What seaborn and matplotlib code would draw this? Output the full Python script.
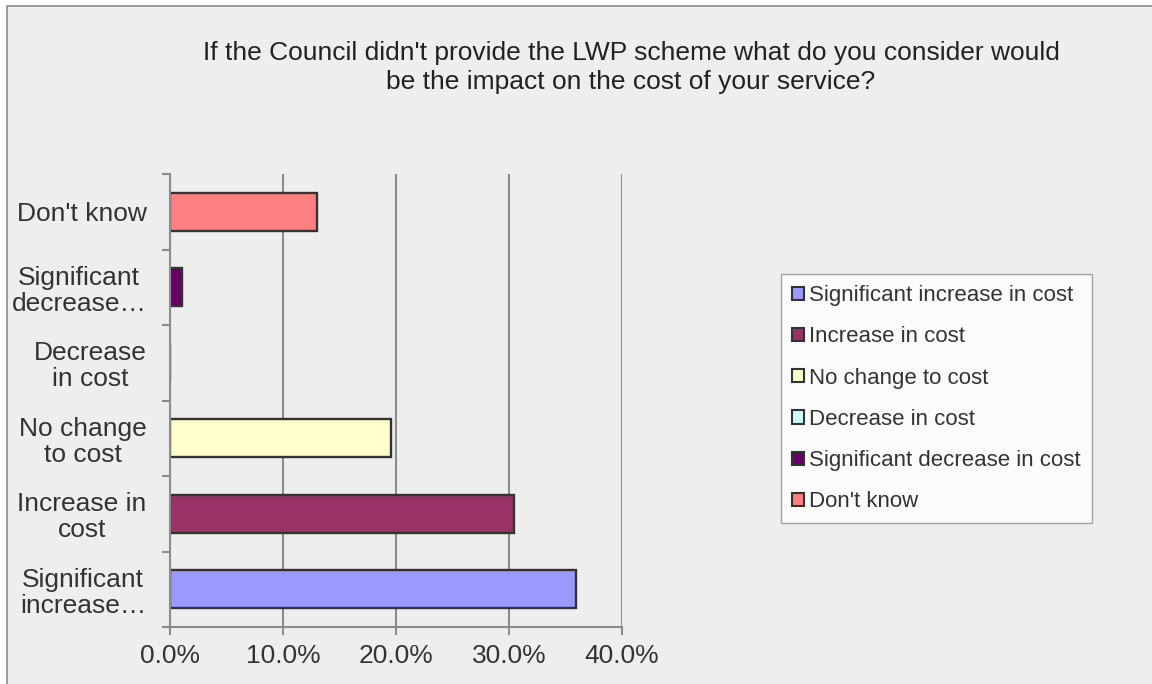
import matplotlib
matplotlib.use("Agg")
import matplotlib.pyplot as plt
from matplotlib.patches import Patch, Rectangle
from matplotlib.ticker import FuncFormatter, FixedLocator
import seaborn as sns
import pandas as pd

# Survey answers, top to bottom as drawn
categories = ["Don't know", "Significant decrease in cost", "Decrease in cost",
              "No change to cost", "Increase in cost", "Significant increase in cost"]
tick_labels = ["Don't know", "Significant\ndecrease…", "Decrease\nin cost",
               "No change\nto cost", "Increase in\ncost", "Significant\nincrease…"]
percent = [13.0, 1.1, 0.0, 19.6, 30.4, 35.9]
colors = ["#FF8080", "#660066", "#CCFFFF", "#FFFFCC", "#993366", "#9999FF"]
legend_order = ["Significant increase in cost", "Increase in cost", "No change to cost",
                "Decrease in cost", "Significant decrease in cost", "Don't know"]
x_ticks = [0, 10, 20, 30, 40]

title_lines = ["If the Council didn't provide the LWP scheme what do you consider would",
               "be the impact on the cost of your service?"]

sns.set_theme(style="white")
plt.rcParams["font.family"] = ["Liberation Sans", "DejaVu Sans"]

W, H = 1152, 684
fig = plt.figure(figsize=(W / 100, H / 100), dpi=100, facecolor="white")

# Chart area panel with a thin grey frame
fig.patches.append(Rectangle((7 / W, -0.05), 1, 1.05 - 6 / H, transform=fig.transFigure,
                             facecolor="#EEEEEE", edgecolor="#8C8C8C", linewidth=1.2,
                             zorder=-10))

ax = fig.add_axes([170 / W, 1 - 627 / H, (622 - 170) / W, (627 - 174) / H])
ax.set_facecolor("none")

df = pd.DataFrame({"answer": categories, "percent": percent})
palette = dict(zip(categories, colors))
sns.barplot(data=df, y="answer", x="percent", hue="answer", palette=palette,
            order=categories, hue_order=categories, orient="h", width=0.5,
            dodge=False, legend=False, saturation=1, edgecolor="#333333",
            linewidth=1.7, ax=ax, zorder=3)

ax.set_xlim(0, 40)
ax.set_ylim(len(categories) - 0.5, -0.5)
ax.set_xlabel("")
ax.set_ylabel("")

# Vertical gridlines
ax.xaxis.set_major_locator(FixedLocator(x_ticks))
ax.xaxis.set_major_formatter(FuncFormatter(lambda v, p: f"{v:.1f}%"))
ax.grid(axis="x", color="#8C8C8C", linewidth=1.5, zorder=0)
ax.grid(axis="y", visible=False)

# Category labels, tick marks on the category boundaries
ax.set_yticks(range(len(categories)))
ax.set_yticklabels(tick_labels, multialignment="center", linespacing=1.1)
ax.set_yticks([i - 0.5 for i in range(len(categories) + 1)], minor=True)
ax.tick_params(axis="y", which="major", length=0, pad=17, labelsize=19,
               labelcolor="#333333")
ax.tick_params(axis="y", which="minor", length=6, width=1.5, color="#8C8C8C", left=True)
ax.tick_params(axis="x", which="major", length=6, width=1.5, color="#8C8C8C",
               bottom=True, pad=6.5, labelsize=19, labelcolor="#333333")

for side in ["top", "right"]:
    ax.spines[side].set_visible(False)
for side in ["left", "bottom"]:
    ax.spines[side].set_color("#8C8C8C")
    ax.spines[side].set_linewidth(1.5)
    ax.spines[side].set_zorder(4)

for line, base in zip(title_lines, [60, 89]):
    fig.text(631 / W, 1 - base / H, line, ha="center", va="baseline", fontsize=19,
             color="#222222")

handles = [Patch(facecolor=palette[c], edgecolor="#333333", linewidth=1.5, label=c)
           for c in legend_order]
leg = fig.legend(handles=handles, loc="upper left",
                 bbox_to_anchor=(781 / W, 1 - 274 / H), bbox_transform=fig.transFigure,
                 frameon=True, fancybox=False, fontsize=16, handlelength=0.54,
                 handleheight=0.54, handletextpad=0.22, labelspacing=0.91,
                 borderpad=0.5, borderaxespad=0)
leg.get_frame().set_edgecolor("#8C8C8C")
leg.get_frame().set_facecolor("white")
leg.get_frame().set_linewidth(1.0)
for t in leg.get_texts():
    t.set_color("#333333")

fig.savefig("out.png", dpi=100, facecolor="white")
